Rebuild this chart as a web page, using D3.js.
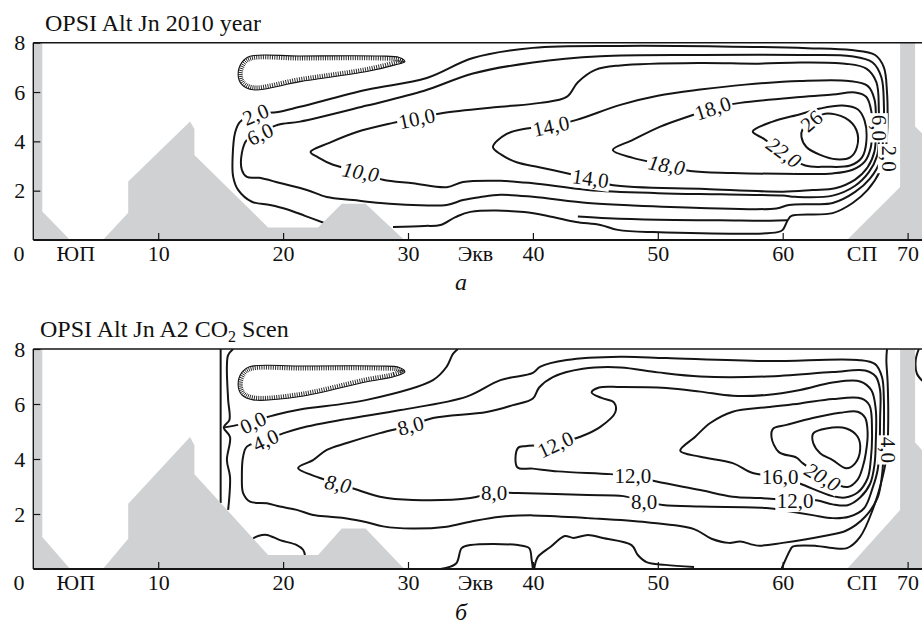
<!DOCTYPE html>
<html>
<head>
<meta charset="utf-8">
<script src="https://cdn.jsdelivr.net/npm/d3@7/dist/d3.min.js"></script>
<style>
  body { margin: 0; background: #fff; }
  svg text { font-family: "Liberation Serif", "Times New Roman", serif; fill: #111; }
</style>
</head>
<body>
<div id="output"></div>
<script>
// axis ticks and names under the x axis
var xTicks = [10, 20, 30, 40, 50, 60, 70];
var yTicks = [2, 4, 6, 8];
var xNames = [["0", -1.15], ["ЮП", 3.4], ["Экв", 35.4], ["СП", 66.35]];

// bottom relief, same in both runs
var landWest = [[0, 8], [0.72, 8], [0.72, 1.16], [2.95, 0], [0, 0]];
var landRidge = [[5.57, 0], [7.6, 1.1], [7.6, 2.37], [12.55, 4.8], [12.9, 4.5], [12.9, 3.45], [18.8, 0.51], [22.8, 0.51], [24.7, 1.47], [26.6, 1.47], [29.7, 0]];
var landEast = [[65.15, 0], [69.4, 2.15], [69.4, 8], [70.6, 8], [70.6, 4.6], [71.15, 4.33], [74, 4.33], [74, 0]];

// ---- run a : 2010 ----
var aNeg = [[29.75, 7.23], [28.96, 7.1], [26.7, 6.83], [21.35, 6.42], [17.6, 6.09], [16.7, 6.3], [16.4, 6.69], [16.7, 7.2], [17.35, 7.45], [21.3, 7.46], [27.7, 7.46], [29.3, 7.4]];
var a2 = [[23.35, 0.68], [21.75, 0.98], [20.3, 1.25], [18.95, 1.42], [17.5, 1.55], [16.4, 2.03], [16.0, 2.57], [15.96, 3.38], [16.15, 4.34], [16.55, 4.79], [17.8, 5.1], [19.6, 5.19], [21.35, 5.4], [26.7, 6.09], [31.5, 6.57], [35.2, 7.38], [40.0, 7.79], [47.0, 7.87], [55, 7.85], [62, 7.78], [65.5, 7.7], [67.4, 7.5], [68.1, 7.0], [68.35, 6.0], [68.4, 5.0], [68.35, 4.2], [68.2, 3.5], [67.8, 2.8], [66.8, 2.03], [65.6, 1.5], [64.0, 1.09], [60.7, 0.98], [60.4, 0.8], [60.0, 0.41], [59.6, 0.32], [49.6, 0.32], [46.8, 0.41], [45.4, 0.61], [43.45, 0.73], [41.6, 0.93], [39.3, 1.14], [35.0, 1.14], [33.8, 0.93], [32.6, 0.61], [31.3, 0.57], [28.8, 0.53]];
var a2b = [[43.6, 0.95], [46, 0.88], [50, 0.82], [55, 0.8], [59, 0.78], [60.35, 0.8]];
var a6 = [[37.4, 1.83], [35.8, 1.74], [34.4, 1.62], [33.1, 1.42], [30.4, 1.42], [27.8, 1.5], [25.6, 1.62], [23.5, 1.74], [21.9, 2.03], [19.75, 2.31], [18.1, 2.52], [17.1, 2.56], [16.7, 2.84], [16.7, 3.53], [17.1, 4.06], [18.2, 4.35], [19.6, 4.67], [21.35, 4.8], [26.7, 5.45], [31.3, 6.05], [35.2, 6.75], [40, 7.2], [45.4, 7.45], [53.4, 7.5], [61.4, 7.5], [65.5, 7.45], [67.2, 7.2], [67.9, 6.6], [68.1, 5.5], [68.05, 4.2], [67.8, 3.2], [67.0, 2.5], [65.8, 1.95], [64.0, 1.5], [62.5, 1.45], [60.5, 1.42], [59.5, 1.28], [53.4, 1.3], [48, 1.4], [44.4, 1.5], [40, 1.75]];
var a10 = [[22.2, 3.57], [23.7, 3.94], [25.9, 4.38], [28.8, 4.75], [30.7, 4.95], [32.8, 5.15], [37.4, 5.4], [40.6, 5.56], [42.7, 5.8], [43.6, 6.4], [45.0, 6.9], [47, 7.08], [53.4, 7.18], [58, 7.15], [61.4, 7.2], [65, 7.15], [66.7, 6.95], [67.5, 6.4], [67.7, 5.2], [67.7, 4.0], [67.55, 3.4], [66.9, 2.75], [65.8, 2.2], [64.0, 1.8], [61.0, 1.75], [60.0, 1.8], [55, 1.85], [50, 1.9], [44.4, 2.03], [40, 2.3], [37.4, 2.4], [34.4, 2.35], [33.1, 2.14], [30.4, 2.3], [28.0, 2.44], [26.2, 2.76], [24.0, 3.05], [22.8, 3.35]];
var a14 = [[36.8, 3.77], [37.9, 4.3], [39.5, 4.52], [41.45, 4.62], [43.5, 4.87], [47.0, 5.48], [50, 5.85], [53.4, 6.1], [57, 6.3], [61.4, 6.45], [65.3, 6.45], [66.8, 6.25], [67.35, 5.7], [67.45, 4.5], [67.35, 3.6], [66.8, 2.95], [65.8, 2.45], [64.2, 2.1], [62.4, 2.03], [60, 1.96], [53.8, 2.07], [46.3, 2.23], [44.6, 2.5], [42.8, 2.7], [40.5, 2.95], [38.7, 3.15], [37.5, 3.45]];
var a18 = [[46.4, 3.65], [48.0, 4.06], [50.2, 4.6], [52.8, 5.07], [54.4, 5.35], [56.6, 5.56], [61.4, 5.8], [64.0, 5.9], [65.8, 5.98], [66.7, 5.8], [67.1, 5.2], [67.15, 4.4], [67.05, 3.75], [66.6, 3.2], [65.6, 2.85], [64.0, 2.7], [61.4, 2.68], [56.0, 2.72], [52.6, 2.8], [50.7, 3.04], [48.0, 3.33]];
var a22 = [[57.6, 4.4], [59.2, 4.8], [61.4, 5.1], [63.0, 5.33], [64.8, 5.45], [66.0, 5.3], [66.55, 4.85], [66.7, 4.0], [66.35, 3.35], [65.4, 3.02], [63.5, 2.97], [61.8, 3.02], [60.0, 3.55], [58.5, 4.1]];
var a26 = [[62.3, 4.83], [63.4, 5.12], [65.0, 4.95], [65.9, 4.46], [65.95, 3.77], [65.4, 3.35], [64.3, 3.27], [63.0, 3.45], [61.9, 3.77], [61.5, 4.18], [61.6, 4.5]];
var aLabels = [["2,0", 17.8, 5.1, -22], ["6,0", 18.15, 4.3, -25], ["10,0", 30.7, 4.93, -12], ["10,0", 26.2, 2.76, 10],
  ["14,0", 41.45, 4.62, -12], ["14,0", 44.6, 2.5, 8], ["18,0", 54.4, 5.35, -18], ["18,0", 50.7, 3.04, 10],
  ["22,0", 60.1, 3.55, 36], ["26", 62.3, 4.83, -40], ["6,0", 67.7, 4.55, 90], ["2,0", 68.5, 3.3, 90]];
var aSlanted = [3, 7, 8];

// ---- run b : A2 CO2 scenario ----
var bNeg = [[29.75, 7.17], [28.9, 7.0], [26.7, 6.81], [21.35, 6.27], [17.6, 6.15], [16.7, 6.33], [16.4, 6.69], [16.7, 7.15], [17.35, 7.36], [21.3, 7.38], [27.7, 7.38], [29.3, 7.33]];
var bWall = [[15.0, 8], [15.0, 2.4]];
var b0West = [[16.0, 8.0], [15.6, 7.78], [15.5, 7.35], [15.6, 6.15], [15.7, 5.42], [15.25, 5.15], [15.75, 4.8], [15.5, 3.96], [15.75, 3.35], [15.6, 2.15]];
var b0Top = [[15.3, 5.15], [16.5, 5.25], [17.6, 5.38], [19.5, 5.62], [21.35, 5.8], [26.7, 6.15], [32.0, 6.87], [33.1, 7.36], [33.6, 7.82], [34.0, 8.0]];
var b0East = [[59.9, 0.0], [60.6, 0.69], [60.8, 0.81], [62.7, 0.84], [64.0, 0.76], [65.15, 0.76], [66.2, 1.17], [67.2, 2.15], [68.0, 3.35], [68.35, 4.2], [68.45, 5.5], [68.4, 6.8], [68.3, 7.6], [68.35, 8.0]];
var b0Far = [[70.9, 8.0], [70.65, 7.6], [70.75, 7.1], [71.4, 6.75]];
var b0Bot1 = [[17.6, 1.11], [18.0, 1.2], [18.7, 1.24], [19.75, 1.05], [21.1, 0.87], [21.6, 0.7], [21.75, 0.51]];
var b0Bot2 = [[32.6, 0.0], [33.85, 0.2], [34.3, 0.76], [35.0, 0.87], [38.8, 0.87], [39.7, 0.76], [39.9, 0.33], [40.0, 0.0]];
var b0Bot3 = [[40.1, 0.0], [40.4, 0.44], [41.4, 0.8], [42.55, 1.2], [43.25, 1.13], [44.4, 1.24], [45.6, 1.13], [47.9, 0.87], [48.4, 0.51], [49.1, 0.25], [50.6, 0.15], [52.9, 0.07]];
var b4 = [[16.7, 3.36], [16.8, 4.09], [17.1, 4.45], [18.6, 4.69], [20.0, 4.93], [21.35, 5.12], [25, 5.45], [29.4, 5.78], [34.7, 6.27], [37.4, 6.87], [40.0, 7.13], [40.6, 7.36], [42.7, 7.6], [47.0, 7.72], [50.7, 7.67], [58.7, 7.56], [66.0, 7.6], [67.4, 7.45], [67.95, 6.98], [68.1, 6.15], [68.1, 5.0], [68.05, 4.0], [67.95, 3.4], [67.6, 2.6], [66.6, 1.9], [65.1, 1.4], [63.3, 1.2], [60.0, 0.95], [58.0, 0.85], [56.6, 1.0], [55.7, 0.95], [54.3, 1.1], [52.9, 1.45], [49.1, 1.7], [44.4, 1.85], [40, 1.95], [37.4, 1.9], [35.0, 1.72], [33.1, 1.54], [30.3, 1.47], [28.0, 1.55], [26.7, 1.7], [25.1, 1.84], [23.75, 1.9], [22.4, 1.96], [21.1, 2.15], [19.75, 2.27], [18.7, 2.39], [17.35, 2.45], [16.8, 2.76]];
var b8 = [[21.2, 3.67], [22.4, 3.96], [23.5, 4.33], [25.1, 4.58], [27.75, 4.94], [30.2, 5.22], [32.0, 5.49], [36.3, 5.71], [38.4, 5.96], [40.0, 6.2], [40.5, 6.6], [41.6, 6.98], [44.0, 7.28], [47.0, 7.33], [50, 7.15], [53.4, 7.0], [58.7, 7.0], [64.0, 7.16], [66.6, 7.22], [67.45, 7.0], [67.8, 6.5], [67.8, 5.5], [67.75, 4.4], [67.6, 3.6], [67.2, 2.95], [66.5, 2.2], [65.3, 1.9], [64.0, 1.85], [62.5, 1.95], [60.5, 2.1], [58.7, 2.22], [53.4, 2.27], [50.4, 2.33], [48.9, 2.45], [47.25, 2.65], [44.4, 2.69], [38.8, 2.76], [36.9, 2.78], [35.0, 2.58], [30.4, 2.51], [27.75, 2.63], [26.0, 2.87], [24.4, 3.1], [22.95, 3.31]];
var b12 = [[38.75, 3.7], [38.8, 4.4], [39.5, 4.47], [41.8, 4.55], [43.8, 4.81], [45.4, 5.17], [46.6, 5.7], [46.5, 6.05], [45.5, 6.22], [44.7, 6.42], [45.3, 6.6], [47, 6.62], [50.7, 6.58], [53.4, 6.45], [56, 6.3], [58.7, 6.33], [61.4, 6.51], [64.0, 6.78], [66.2, 6.82], [67.1, 6.5], [67.45, 5.8], [67.45, 4.6], [67.35, 3.8], [67.0, 3.1], [66.2, 2.6], [65.2, 2.32], [64.0, 2.35], [62.7, 2.5], [61.0, 2.5], [58.2, 2.58], [56.0, 2.63], [53.4, 2.87], [49.9, 3.18], [48.0, 3.38], [46.2, 3.45], [42, 3.55], [40.0, 3.65]];
var b16 = [[51.8, 4.3], [53.0, 4.81], [54.2, 5.31], [56.0, 5.72], [58.7, 5.88], [61.4, 6.02], [64.0, 6.18], [66.3, 6.2], [66.95, 5.95], [67.15, 5.0], [67.05, 3.96], [66.8, 3.3], [66.0, 2.78], [65.0, 2.6], [64.0, 2.65], [61.4, 3.1], [59.8, 3.35], [57.6, 3.49], [56.0, 3.85], [53.4, 4.08]];
var b20 = [[59.1, 4.8], [59.25, 5.11], [60.3, 5.24], [62.4, 5.49], [64.6, 5.68], [66.0, 5.72], [66.6, 5.5], [66.8, 4.95], [66.65, 4.2], [66.4, 3.7], [66.0, 3.25], [65.2, 2.98], [63.2, 3.35], [61.6, 3.85], [61.1, 4.05], [59.7, 4.25]];
var b24 = [[62.45, 4.93], [63.5, 5.11], [65.1, 5.11], [66.0, 4.81], [66.2, 4.33], [65.8, 3.84], [65.1, 3.66], [64.0, 3.96], [63.0, 4.21], [62.45, 4.57]];
var bLabels = [["0,0", 17.6, 5.33, -25], ["4,0", 18.6, 4.69, -25], ["8,0", 30.2, 5.22, -15], ["8,0", 24.4, 3.1, 12],
  ["8,0", 36.9, 2.78, 0], ["8,0", 48.9, 2.45, 0], ["12,0", 41.8, 4.53, -25], ["12,0", 48.0, 3.38, 0],
  ["12,0", 61.0, 2.47, 0], ["16,0", 59.8, 3.35, 0], ["20,0", 63.2, 3.35, 30], ["4,0", 68.45, 4.33, 90]];
var bSlanted = [3, 10];

var w = 922, h = 626;
var ink = "#151515", landColor = "#d0d1d3";

var x = d3.scaleLinear()
    .domain([0, 70])
    .range([33.3, 907.6]);

var svg = d3.select("#output").append("svg")
    .attr("width", w)
    .attr("height", h)
    .style("background", "#fff");

function drawPanel(p) {
    var y = d3.scaleLinear()
        .domain([0, 8])
        .range([p.bottom, p.top]);

    var line = d3.line()
        .x(function (d) { return x(d[0]) })
        .y(function (d) { return y(d[1]) })
        .curve(d3.curveCatmullRom.alpha(0.5));
    var loop = d3.line()
        .x(function (d) { return x(d[0]) })
        .y(function (d) { return y(d[1]) })
        .curve(d3.curveCatmullRomClosed.alpha(0.5));
    var poly = d3.line()
        .x(function (d) { return x(d[0]) })
        .y(function (d) { return y(d[1]) });

    svg.append("clipPath")
        .attr("id", "clip" + p.id)
        .append("rect")
        .attr("x", x(0))
        .attr("y", y(8))
        .attr("width", w - x(0))
        .attr("height", y(0) - y(8));

    var plot = svg.append("g")
        .attr("clip-path", "url(#clip" + p.id + ")");

    plot.selectAll(".open")
        .data(p.open)
        .enter()
        .append("path")
        .attr("d", line)
        .attr("fill", "none")
        .attr("stroke", ink)
        .attr("stroke-width", 2);

    plot.selectAll(".closed")
        .data(p.closed)
        .enter()
        .append("path")
        .attr("d", loop)
        .attr("fill", "none")
        .attr("stroke", ink)
        .attr("stroke-width", 2);

    // negative cell: thin line with ticks on the inner side
    var neg = plot.append("path")
        .attr("d", loop(p.neg))
        .attr("fill", "none")
        .attr("stroke", ink)
        .attr("stroke-width", 1.1);
    var node = neg.node(), len = node.getTotalLength(), ticks = [];
    for (var s = 0; s < len; s += 2.3) {
        var a = node.getPointAtLength(s), b = node.getPointAtLength(Math.min(len, s + 0.6));
        var dx = b.x - a.x, dy = b.y - a.y, n = Math.sqrt(dx * dx + dy * dy) || 1;
        var nx = -dy / n, ny = dx / n;
        var test = svg.node().createSVGPoint();
        test.x = a.x + nx * 1.5; test.y = a.y + ny * 1.5;
        if (!node.isPointInFill(test)) { nx = -nx; ny = -ny; }
        ticks.push([a.x, a.y, a.x + nx * 4.5, a.y + ny * 4.5]);
    }
    plot.selectAll(".tick-neg")
        .data(ticks)
        .enter()
        .append("line")
        .attr("x1", function (d) { return d[0] })
        .attr("y1", function (d) { return d[1] })
        .attr("x2", function (d) { return d[2] })
        .attr("y2", function (d) { return d[3] })
        .attr("stroke", ink)
        .attr("stroke-width", 0.9);

    plot.selectAll(".land")
        .data([landWest, landRidge, landEast])
        .enter()
        .append("path")
        .attr("d", function (d) { return poly(d) + "Z" })
        .attr("fill", landColor);

    // contour labels sit on a small white patch that breaks the line
    var lab = plot.selectAll(".clabel")
        .data(p.labels)
        .enter()
        .append("g")
        .attr("transform", function (d) {
            return "translate(" + x(d[1]) + "," + y(d[2]) + ") rotate(" + d[3] + ")"
        });
    lab.append("text")
        .attr("text-anchor", "middle")
        .attr("dy", "0.35em")
        .style("font-size", "21px")
        .style("font-style", function (d, i) { return p.slanted.indexOf(i) >= 0 ? "italic" : "normal" })
        .text(function (d) { return d[0] });
    lab.each(function () {
        var g = d3.select(this);
        var bb = g.select("text").node().getBBox();
        g.insert("rect", "text")
            .attr("x", bb.x - 1.5)
            .attr("y", -9)
            .attr("width", bb.width + 3)
            .attr("height", 20)
            .attr("fill", "#fff");
    });

    // frame
    svg.append("line")
        .attr("x1", x(0)).attr("x2", w)
        .attr("y1", y(8)).attr("y2", y(8))
        .attr("stroke", ink).attr("stroke-width", 1.4);
    svg.append("line")
        .attr("x1", x(0)).attr("x2", x(0))
        .attr("y1", y(8)).attr("y2", y(0))
        .attr("stroke", ink).attr("stroke-width", 1.4);
    svg.append("line")
        .attr("x1", x(0)).attr("x2", w)
        .attr("y1", y(0)).attr("y2", y(0))
        .attr("stroke", ink).attr("stroke-width", 2);

    var xAxis = d3.axisBottom(x)
        .tickValues(xTicks)
        .tickSizeInner(-7)
        .tickSizeOuter(0)
        .tickPadding(5);
    var yAxis = d3.axisLeft(y)
        .tickValues(yTicks)
        .tickSizeInner(-7)
        .tickSizeOuter(0)
        .tickPadding(8);

    var gx = svg.append("g")
        .attr("transform", "translate(0," + y(0) + ")")
        .call(xAxis);
    var gy = svg.append("g")
        .attr("transform", "translate(" + x(0) + ",0)")
        .call(yAxis);
    [gx, gy].forEach(function (g) {
        g.select(".domain").remove();
        g.selectAll("line").attr("stroke", ink).attr("stroke-width", 1.2);
        g.selectAll("text").attr("fill", ink).style("font-size", "22px")
            .style("font-family", "'Liberation Serif', serif");
    });

    svg.selectAll(".xname" + p.id)
        .data(xNames)
        .enter()
        .append("text")
        .attr("x", function (d) { return x(d[1]) })
        .attr("y", y(0) + 21)
        .attr("text-anchor", "middle")
        .style("font-size", "22px")
        .text(function (d) { return d[0] });

    var title = svg.append("text")
        .attr("x", p.titleX)
        .attr("y", y(8) - 12)
        .style("font-size", "24px");
    title.append("tspan").text(p.title[0]);
    if (p.title.length > 1) {
        title.append("tspan").attr("dy", 5).style("font-size", "16px").text(p.title[1]);
        title.append("tspan").attr("dy", -5).text(p.title[2]);
    }

    svg.append("text")
        .attr("x", w / 2)
        .attr("y", y(0) + p.letterGap)
        .attr("text-anchor", "middle")
        .style("font-size", "24px")
        .style("font-style", "italic")
        .text(p.letter);
}

drawPanel({
    id: "a", top: 42.7, bottom: 240, titleX: 45, letterGap: 50,
    title: ["OPSI Alt Jn 2010 year"], letter: "а",
    open: [a2, a2b], closed: [a6, a10, a14, a18, a22, a26], neg: aNeg,
    labels: aLabels, slanted: aSlanted
});

drawPanel({
    id: "b", top: 349, bottom: 569, titleX: 40, letterGap: 51,
    title: ["OPSI Alt Jn A2 CO", "2", " Scen"], letter: "б",
    open: [bWall, b0West, b0Top, b0East, b0Far, b0Bot1, b0Bot2, b0Bot3],
    closed: [b4, b8, b12, b16, b20, b24], neg: bNeg,
    labels: bLabels, slanted: bSlanted
});
</script>
</body>
</html>
